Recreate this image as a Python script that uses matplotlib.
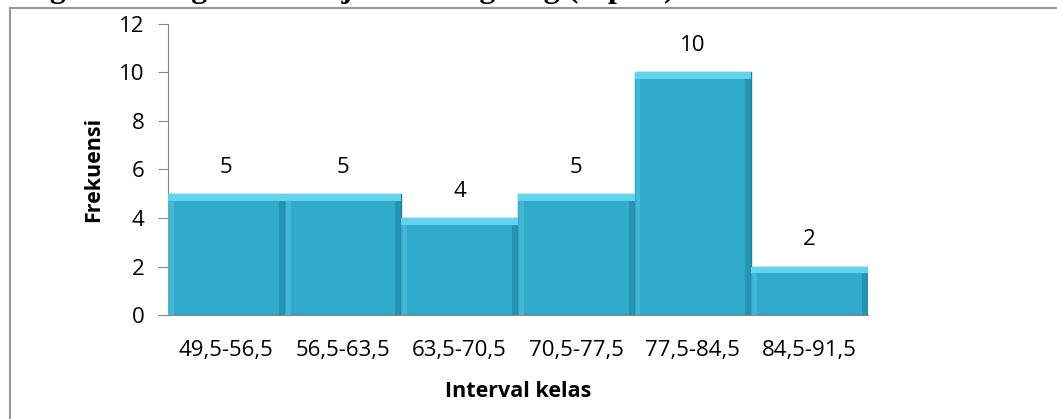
import matplotlib.pyplot as plt
from matplotlib.patches import Rectangle
from matplotlib.lines import Line2D

intervals = ['49,5-56,5', '56,5-63,5', '63,5-70,5', '70,5-77,5', '77,5-84,5', '84,5-91,5']
frekuensi = [5, 5, 4, 5, 10, 2]
y_ticks = [0, 2, 4, 6, 8, 10, 12]

plt.rcParams['font.family'] = ['Open Sans', 'DejaVu Sans']

fig = plt.figure(figsize=(10.57, 4.19), dpi=100)
ax = fig.add_axes([0.159, 0.248, 0.662, 0.695])

x = list(range(len(intervals)))
ax.bar(x, frekuensi, width=1.0, color='#30abcb', edgecolor='#1d7d96', linewidth=1.0)
# light bevel along the top and sides of each bar
for xi, v in zip(x, frekuensi):
    ax.add_patch(Rectangle((xi - 0.5, v - 0.28), 1.0, 0.28, facecolor='#62d3ec',
                           edgecolor='none', zorder=3))
    ax.add_patch(Rectangle((xi - 0.5, 0), 0.05, v - 0.28, facecolor='#4fc2df',
                           edgecolor='none', zorder=3, alpha=0.6))
    ax.add_patch(Rectangle((xi + 0.45, 0), 0.05, v - 0.28, facecolor='#1e86a1',
                           edgecolor='none', zorder=3, alpha=0.6))
    ax.text(xi, v + 1.1, str(v), ha='center', va='center', fontsize=16)

ax.set_xlim(-0.5, len(intervals) - 0.5)
ax.set_ylim(0, 12)
ax.set_yticks(y_ticks)
ax.set_yticklabels([str(t) for t in y_ticks], fontsize=16)
ax.set_xticks(x)
ax.set_xticklabels(intervals, fontsize=16)
ax.tick_params(axis='x', length=0, pad=18)
ax.tick_params(axis='y', length=7, color='#888888', pad=10)

for s in ['top', 'right']:
    ax.spines[s].set_visible(False)
ax.spines['left'].set_color('#888888')
ax.spines['bottom'].set_color('#888888')

ax.set_xlabel('Interval kelas', fontsize=15.5, fontweight='bold', labelpad=14)
ax.set_ylabel('Frekuensi', fontsize=15.5, fontweight='bold', labelpad=11)

# outer chart frame (cut off on the right and bottom)
fig.add_artist(Line2D([0.0095, 1.0], [0.981, 0.981], color='#999999', lw=1.5))
fig.add_artist(Line2D([0.0095, 0.0095], [0.0, 0.981], color='#999999', lw=1.5))

# clipped caption line at the top of the page, only its lower edge shows
fig.text(0.0, 1.006, 'dengan Strategi Pembelajaran Langsung (Tipe 2)', fontsize=23,
         fontweight='bold', family='Liberation Serif', ha='left', va='baseline')

fig.savefig('out.png', dpi=100)
